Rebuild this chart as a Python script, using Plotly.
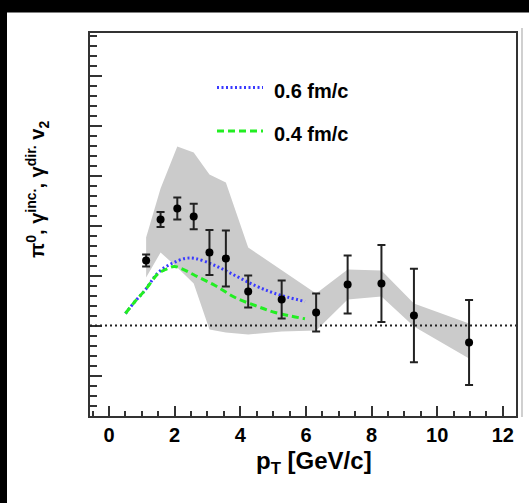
import plotly.graph_objects as go

# Measured photon v2 vs pT
pt = [1.13, 1.57, 2.08, 2.58, 3.06, 3.56, 4.24, 5.26, 6.31, 7.27, 8.30, 9.29, 10.97]
v2 = [0.065, 0.106, 0.117, 0.109, 0.073, 0.067, 0.034, 0.026, 0.013, 0.041, 0.042, 0.010, -0.017]
stat_err = [0.006, 0.0075, 0.011, 0.0127, 0.0225, 0.028, 0.016, 0.019, 0.019, 0.029, 0.0385, 0.0467, 0.0425]

# Systematic band edges
sys_upper = [0.088, 0.137, 0.179, 0.173, 0.151, 0.143, 0.078, 0.055, 0.032, 0.056, 0.055, 0.022, 0.002]
sys_lower = [0.048, 0.073, 0.058, 0.042, -0.004, -0.007, -0.009, -0.006, -0.005, 0.026, 0.029, -0.001, -0.033]

# Model curves
blue_pt = [0.5, 0.79, 1.09, 1.5, 1.91, 2.31, 2.62, 3.23, 3.84, 4.45, 5.06, 5.97]
blue_v2 = [0.012, 0.024, 0.035, 0.053, 0.062, 0.067, 0.067, 0.060, 0.050, 0.040, 0.032, 0.024]
green_pt = [0.5, 0.79, 1.09, 1.5, 1.72, 1.98, 2.2, 2.62, 3.23, 3.84, 4.45, 5.06, 5.97]
green_v2 = [0.012, 0.024, 0.035, 0.052, 0.056, 0.059, 0.057, 0.050, 0.040, 0.028, 0.020, 0.013, 0.0067]

curve_labels = ["0.6 fm/c", "0.4 fm/c"]
x_ticks = [0, 2, 4, 6, 8, 10, 12]

W, H = 529, 503
L, R, T, B = 90, 13, 33, 87
PW, PH = W - L - R, H - T - B


def px(x):
    return (x - L) / PW


def py(y):
    return (H - B - y) / PH


FONT = "Liberation Sans"
AXC = "#333333"

fig = go.Figure()

# systematic uncertainty band
fig.add_trace(go.Scatter(
    x=pt + pt[::-1], y=sys_upper + sys_lower[::-1],
    fill="toself", fillcolor="#cbcbcb", line=dict(width=0),
    mode="lines", hoverinfo="skip", showlegend=False))

fig.add_trace(go.Scatter(
    x=blue_pt, y=blue_v2, mode="lines", line_shape="spline",
    line=dict(color="#3a3aff", width=3, dash="2px,2.5px"),
    showlegend=False))
fig.add_trace(go.Scatter(
    x=green_pt, y=green_v2, mode="lines", line_shape="spline",
    line=dict(color="#22ee22", width=3, dash="7px,4px"),
    showlegend=False))

fig.add_trace(go.Scatter(
    x=pt, y=v2, mode="markers",
    marker=dict(color="black", size=8),
    error_y=dict(type="data", array=stat_err, color="#222222", thickness=2, width=4),
    showlegend=False))

shapes = [
    # zero reference line
    dict(type="line", xref="paper", yref="y", x0=0, x1=1, y0=0, y1=0,
         line=dict(color="#222222", width=2, dash="2px,3px"), layer="above"),
    # legend keys
    dict(type="line", xref="paper", yref="paper", x0=px(217), x1=px(263), y0=py(87.5), y1=py(87.5),
         line=dict(color="#3a3aff", width=3, dash="2px,2.5px")),
    dict(type="line", xref="paper", yref="paper", x0=px(217), x1=px(263), y0=py(131), y1=py(131),
         line=dict(color="#22ee22", width=3, dash="7px,4px")),
    # page edges
    dict(type="rect", xref="paper", yref="paper", x0=px(-5), x1=px(W + 5), y0=py(-5), y1=py(12.5),
         fillcolor="black", line=dict(width=0)),
    dict(type="rect", xref="paper", yref="paper", x0=px(-5), x1=px(7), y0=py(H + 5), y1=py(-5),
         fillcolor="black", line=dict(width=0)),
    dict(type="line", xref="paper", yref="paper", x0=px(522), x1=px(522), y0=py(28), y1=py(417),
         line=dict(color="#b0b0b0", width=1.2)),
]

annotations = [
    dict(text=curve_labels[0], xref="paper", yref="paper", x=px(272), y=py(90.5),
         xanchor="left", yanchor="middle", showarrow=False,
         font=dict(family=FONT, size=20, color="black", weight="bold")),
    dict(text=curve_labels[1], xref="paper", yref="paper", x=px(272), y=py(133.5),
         xanchor="left", yanchor="middle", showarrow=False,
         font=dict(family=FONT, size=20, color="black", weight="bold")),
    dict(text="p<sub>T</sub> [GeV/c]", xref="paper", yref="paper", x=px(314), y=py(462),
         xanchor="center", yanchor="middle", showarrow=False,
         font=dict(family=FONT, size=24, color="black", weight="bold")),
    dict(text="π<sup>0</sup>, γ<sup>inc.</sup>, γ<sup>dir.</sup> v<sub>2</sub>",
         xref="paper", yref="paper", x=px(37), y=py(190), textangle=-90,
         xanchor="center", yanchor="middle", showarrow=False,
         font=dict(family=FONT, size=20, color="black", weight="bold")),
]

fig.update_layout(
    width=W, height=H,
    margin=dict(l=L, r=R, t=T, b=B),
    paper_bgcolor="white", plot_bgcolor="white",
    shapes=shapes, annotations=annotations,
    xaxis=dict(
        range=[-0.58, 12.40], tickvals=x_ticks, ticktext=[str(v) for v in x_ticks],
        ticks="inside", ticklen=10, tickwidth=1.5, tickcolor=AXC,
        minor=dict(dtick=0.5, ticks="inside", ticklen=5, tickwidth=1.5, tickcolor=AXC),
        showline=True, linecolor=AXC, linewidth=2, mirror=True,
        showgrid=False, zeroline=False,
        tickfont=dict(family=FONT, size=20, color="black", weight="bold"),
    ),
    yaxis=dict(
        range=[-0.0905, 0.2925], dtick=0.05, tick0=0,
        ticks="inside", ticklen=12, tickwidth=1.5, tickcolor=AXC,
        minor=dict(dtick=0.01, ticks="inside", ticklen=7, tickwidth=1.5, tickcolor=AXC),
        showline=True, linecolor=AXC, linewidth=2, mirror=True,
        showgrid=False, zeroline=False, showticklabels=False,
    ),
)

fig.write_html("out.html")
